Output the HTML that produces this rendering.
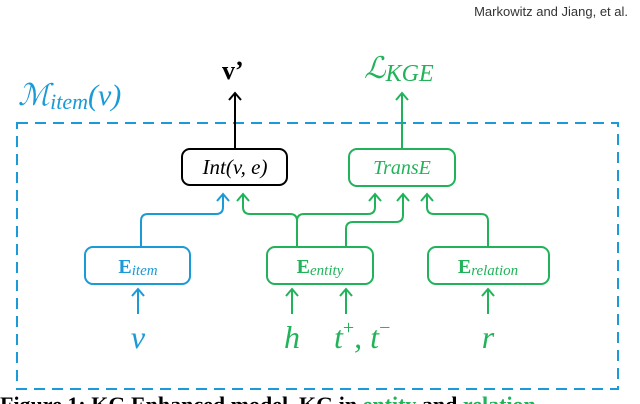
<html><head><style>body{margin:0;background:#fff}</style></head><body>
<svg width="640" height="404" viewBox="0 0 640 404" xmlns="http://www.w3.org/2000/svg" font-family="Liberation Serif, serif">
<text x="628" y="16" text-anchor="end" font-family="Liberation Sans, sans-serif" font-size="13" fill="#333">Markowitz and Jiang, et al.</text>
<rect x="17" y="123" width="601" height="266" fill="none" stroke="#1a9ad6" stroke-width="2" stroke-dasharray="11,7"/>
<text x="18" y="105" font-size="30" font-style="italic" fill="#1a9ad6">ℳ<tspan font-size="22" dy="4">item</tspan><tspan font-size="30" dy="-4">(v)</tspan></text>
<text x="222" y="79" font-size="26" font-weight="bold" fill="#000">v’</text>
<text x="364" y="78" font-size="30" font-style="italic" fill="#22b35a">ℒ<tspan font-size="24" dy="3">KGE</tspan></text>
<g fill="none" stroke-width="2">
<path d="M235 149 V93 M229 100 L235 93 L241 100" stroke="#000"/>
<path d="M402 149 V93 M396 100 L402 93 L408 100" stroke="#22b35a"/>
<path d="M141 247 V221 Q141 214 148 214 H216 Q223 214 223 207 V194 M217 201 L223 194 L229 201" stroke="#1a9ad6"/>
<path d="M297 247 V221 Q297 214 290 214 H250 Q243 214 243 207 V194 M237 201 L243 194 L249 201" stroke="#22b35a"/>
<path d="M297 221 Q297 214 304 214 H368 Q375 214 375 207 V194 M369 201 L375 194 L381 201" stroke="#22b35a"/>
<path d="M346 247 V229 Q346 222 353 222 H396 Q403 222 403 215 V194 M397 201 L403 194 L409 201" stroke="#22b35a"/>
<path d="M488 247 V221 Q488 214 481 214 H434 Q427 214 427 207 V194 M421 201 L427 194 L433 201" stroke="#22b35a"/>
<path d="M138 314 V289 M132 296 L138 289 L144 296" stroke="#1a9ad6"/>
<path d="M292 314 V289 M286 296 L292 289 L298 296" stroke="#22b35a"/>
<path d="M346 314 V289 M340 296 L346 289 L352 296" stroke="#22b35a"/>
<path d="M488 314 V289 M482 296 L488 289 L494 296" stroke="#22b35a"/>
</g>
<rect x="182" y="149" width="105" height="36" rx="8" fill="#fff" stroke="#000" stroke-width="2"/>
<text x="235" y="174" text-anchor="middle" font-size="21" font-style="italic">Int(v, e)</text>
<rect x="349" y="149" width="106" height="37" rx="8" fill="#fff" stroke="#22b35a" stroke-width="2"/>
<text x="402" y="174" text-anchor="middle" font-size="20" font-style="italic" fill="#22b35a">TransE</text>
<rect x="85" y="247" width="105" height="37" rx="8" fill="#fff" stroke="#1a9ad6" stroke-width="2"/>
<text x="138" y="273" text-anchor="middle" font-size="20" fill="#1a9ad6"><tspan font-weight="bold">E</tspan><tspan font-size="15" font-style="italic" dy="2">item</tspan></text>
<rect x="267" y="247" width="106" height="37" rx="8" fill="#fff" stroke="#22b35a" stroke-width="2"/>
<text x="320" y="273" text-anchor="middle" font-size="20" fill="#22b35a"><tspan font-weight="bold">E</tspan><tspan font-size="15" font-style="italic" dy="2">entity</tspan></text>
<rect x="428" y="247" width="121" height="37" rx="8" fill="#fff" stroke="#22b35a" stroke-width="2"/>
<text x="488" y="273" text-anchor="middle" font-size="20" fill="#22b35a"><tspan font-weight="bold">E</tspan><tspan font-size="15" font-style="italic" dy="2">relation</tspan></text>
<text x="138" y="348" text-anchor="middle" font-size="32" font-style="italic" fill="#1a9ad6">v</text>
<text x="292" y="348" text-anchor="middle" font-size="32" font-style="italic" fill="#22b35a">h</text>
<text x="334" y="348" font-size="32" font-style="italic" fill="#22b35a">t<tspan font-size="20" font-style="normal" dy="-14">+</tspan><tspan font-size="32" dy="14">, t</tspan><tspan font-size="20" font-style="normal" dy="-14">−</tspan></text>
<text x="488" y="348" text-anchor="middle" font-size="32" font-style="italic" fill="#22b35a">r</text>
<text x="0" y="412" font-size="22" font-weight="bold" fill="#000">Figure 1: KG Enhanced model. KG in <tspan fill="#22b35a">entity</tspan> and <tspan fill="#22b35a">relation</tspan></text>
</svg>
</body></html>
